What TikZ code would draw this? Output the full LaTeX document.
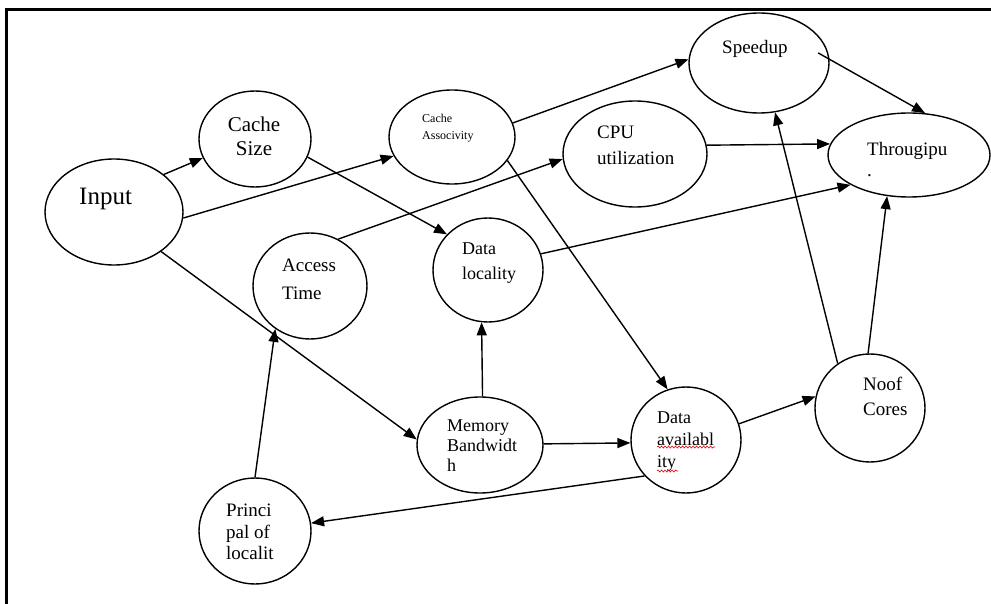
\documentclass[tikz,border=0pt]{standalone}
\usepackage{fontspec}
\setmainfont{Liberation Serif}
\usetikzlibrary{shapes.geometric,arrows.meta,decorations.pathmorphing}
\begin{document}
\begin{tikzpicture}[x=1pt,y=-1pt,
  bubble/.style={ellipse,draw,line width=1.4pt,inner sep=0pt},
  lbl/.style={inner sep=0pt,align=left,anchor=north west,font=\fontsize{19}{23}\selectfont},
  link/.style={line width=1.4pt,-{Triangle[length=13pt,width=10pt]}},
  wavy/.style={red!85!black,line width=0.6pt,decorate,decoration={snake,segment length=3.5pt,amplitude=1pt}}]
\useasboundingbox (0,0) rectangle (991,604);
% frame
\draw[line width=3pt] (6,606) -- (6,10) -- (993,10);

% ellipses
\node[bubble,minimum width=138pt,minimum height=106pt] (inp) at (114,212) {};
\node[bubble,minimum width=112pt,minimum height=96pt]  (csz) at (255,139) {};
\node[bubble,minimum width=126pt,minimum height=94pt]  (cas) at (452,137) {};
\node[bubble,minimum width=114pt,minimum height=106pt] (acc) at (310,286) {};
\node[bubble,minimum width=110pt,minimum height=104pt] (dlo) at (488,270) {};
\node[bubble,minimum width=140pt,minimum height=100pt] (spd) at (759,63) {};
\node[bubble,minimum width=144pt,minimum height=106pt] (cpu) at (635,154) {};
\node[bubble,minimum width=162pt,minimum height=84pt]  (thr) at (909,155) {};
\node[bubble,minimum width=126pt,minimum height=96pt]  (mem) at (480,445) {};
\node[bubble,minimum width=110pt,minimum height=106pt] (dav) at (686,440) {};
\node[bubble,minimum width=110pt,minimum height=108pt] (noc) at (870,408) {};
\node[bubble,minimum width=112pt,minimum height=106pt] (pri) at (255,531) {};

% labels
\node[lbl,font=\fontsize{25}{28}\selectfont] (inp-t) at (79,188) {Input};
\node[lbl,font=\fontsize{21}{24}\selectfont,align=center,anchor=north] (csz-t) at (254,117) {Cache\\Size};
\node[lbl,font=\fontsize{12}{17}\selectfont] (cas-t) at (422,114) {Cache\\Associvity};
\node[lbl,font=\fontsize{19}{28}\selectfont] (acc-t) at (282,259) {Access\\Time};
\node[lbl,font=\fontsize{18}{25}\selectfont] (dlo-t) at (462,243) {Data\\locality};
\node[lbl] (spd-t) at (722,40) {Speedup};
\node[lbl,font=\fontsize{19}{26}\selectfont] (cpu-t) at (597,126) {CPU\\utilization};
\node[lbl,font=\fontsize{19}{21}\selectfont] (thr-t) at (867,142) {Througipu\\.};
\node[lbl,font=\fontsize{18}{20}\selectfont] (mem-t) at (447,420) {Memory\\Bandwidt\\h};
\node[lbl,font=\fontsize{18}{22}\selectfont] (dav-t) at (657,412) {Data\\availabl\\ity};
\node[lbl,font=\fontsize{19}{25}\selectfont] (noc-t) at (863,377) {Noof\\Cores};
\node[lbl,font=\fontsize{19}{21.5}\selectfont] (pri-t) at (226,504) {Princi\\pal of\\localit};

% spelling marks
\coordinate (w1a) at (657,447); \coordinate (w1b) at (715,447);
\coordinate (w2a) at (657,471); \coordinate (w2b) at (678,471);
\draw[wavy] (w1a) -- (w1b);
\draw[wavy] (w2a) -- (w2b);

% connectors
\draw[link] (inp.37)  -- (csz.200.6);
\draw[link] (inp.-5)  -- (cas.198.2);
\draw[link] (inp.-40.5) -- (mem.175.5);
\draw[link] (csz.-19.7) -- (dlo.139.3);
\draw[link] (acc.59)  -- (cpu.184);
\draw[link] (cas.13)  -- (spd.177.5);
\draw[link] (cas.-23.5) -- (dav.110.9);
\draw[link] (cpu.7.1) -- (thr.172);
\draw[link] (dlo.17.2) -- (thr.207);
\draw[link,shorten <=-13pt] (spd.3) -- (thr.69);
\draw[link] (noc.126.3) -- (spd.-72.9);
\draw[link] (noc.92)  -- (thr.242);
\draw[link] (mem.87.6) -- (dlo.263.9);
\draw[link] (mem.1.8) -- (dav.183);
\draw[link] (dav.17.8) -- (noc.168.7);
\draw[link] (dav.221.5) -- (pri.8.3);
\draw[link] (pri.90)  -- (acc.231.2);
\end{tikzpicture}
\end{document}
